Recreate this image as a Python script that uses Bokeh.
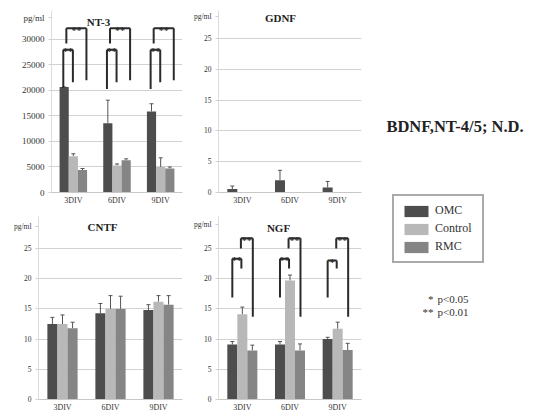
from bokeh.plotting import figure
from bokeh.models import (ColumnDataSource, FixedTicker, Whisker, TeeHead, Label,
                          Legend, LegendItem, Range1d, FactorRange)
from bokeh.transform import dodge
from bokeh.layouts import row, column
from bokeh.core.properties import value
from bokeh.embed import file_html
from bokeh.resources import INLINE

# ---------------- data ----------------
days = ["3DIV", "6DIV", "9DIV"]
groups = ["OMC", "Control", "RMC"]

nt3_omc = [20700, 13600, 15900]
nt3_omc_err = [0, 4500, 1500]
nt3_ctrl = [7100, 5300, 5000]
nt3_ctrl_err = [500, 300, 1800]
nt3_rmc = [4400, 6300, 4700]
nt3_rmc_err = [300, 300, 300]

gdnf_omc = [0.55, 2.0, 0.8]
gdnf_omc_err = [0.5, 1.6, 1.0]
gdnf_ctrl = [0, 0, 0]
gdnf_ctrl_err = [0, 0, 0]
gdnf_rmc = [0, 0, 0]
gdnf_rmc_err = [0, 0, 0]

cntf_omc = [12.5, 14.3, 14.8]
cntf_omc_err = [1.1, 1.6, 0.9]
cntf_ctrl = [12.5, 15.0, 16.2]
cntf_ctrl_err = [1.5, 2.2, 1.0]
cntf_rmc = [11.8, 15.0, 15.7]
cntf_rmc_err = [1.0, 2.1, 1.5]

ngf_omc = [9.1, 9.1, 10.0]
ngf_omc_err = [0.5, 0.5, 0.3]
ngf_ctrl = [14.1, 19.7, 11.7]
ngf_ctrl_err = [1.2, 0.9, 1.1]
ngf_rmc = [8.1, 8.1, 8.2]
ngf_rmc_err = [0.9, 1.1, 1.1]

# significance brackets (levels in data units)
nt3_inner_top = [28000, 28000, 28000]
nt3_inner_left = [20500, 20300, 20300]
nt3_inner_right = [21600, 21600, 21600]
nt3_inner_label = ["**", "**", "**"]
nt3_outer_top = [32200, 32200, 32200]
nt3_outer_left = [29200, 29200, 29200]
nt3_outer_right = [22000, 22000, 22000]
nt3_outer_label = ["**", "**", "**"]

ngf_inner_top = [23.3, 23.3, 23.0]
ngf_inner_left = [16.9, 16.9, 16.9]
ngf_inner_right = [21.7, 21.7, 21.7]
ngf_inner_label = ["**", "**", "*"]
ngf_outer_top = [26.7, 26.7, 26.7]
ngf_outer_left = [25.0, 25.0, 25.0]
ngf_outer_right = [13.7, 13.7, 13.7]
ngf_outer_label = ["**", "**", "**"]

# ---------------- style ----------------
SERIF = "Liberation Serif"
COLORS = ["#4d4d4d", "#b8b8b8", "#858585"]
OFFS = [-0.21, 0.0, 0.21]
BW = 0.21
DARK = "#2b2b2b"


def panel(title, series, errors, y_end, tick_max, tick_step, unit_at, fw, fh,
          bl, br, bt, bb, tick_size, title_xy):
    p = figure(x_range=FactorRange(*days), y_range=Range1d(0, y_end),
               frame_width=fw, frame_height=fh, output_backend="svg",
               toolbar_location=None, title=None,
               min_border_left=bl, min_border_right=br,
               min_border_top=bt, min_border_bottom=bb)
    data = dict(day=days)
    keys = ["omc", "ctrl", "rmc"]
    for k, s, e in zip(keys, series, errors):
        data[k] = s
        data[k + "_hi"] = [a + b for a, b in zip(s, e)]
    src = ColumnDataSource(data)
    for k, off, col, e in zip(keys, OFFS, COLORS, errors):
        p.vbar(x=dodge("day", off, range=p.x_range), top=k, width=BW,
               source=src, fill_color=col, line_color=None)
        if any(v > 0 for v in e):
            p.add_layout(Whisker(source=src, base=dodge("day", off, range=p.x_range),
                                 lower=k, upper=k + "_hi", lower_head=None,
                                 upper_head=TeeHead(size=4, line_color="#555", line_width=1),
                                 line_color="#555", line_width=1))
    ticks = list(range(0, tick_max + 1, tick_step))
    p.yaxis.ticker = FixedTicker(ticks=ticks + [unit_at])
    p.yaxis.major_label_overrides = {unit_at: "pg/ml"}
    p.ygrid.ticker = FixedTicker(ticks=ticks)
    p.ygrid.grid_line_color = "#d2d2d2"
    p.xgrid.grid_line_color = None
    p.outline_line_color = None
    p.yaxis.axis_line_color = "#dcdcdc"
    p.yaxis.major_tick_line_color = "#d0d0d0"
    p.yaxis.major_tick_out = 3
    p.yaxis.major_tick_in = 0
    p.yaxis.minor_tick_line_color = None
    p.yaxis.minor_tick_out = 0
    p.yaxis.major_label_text_font = SERIF
    p.yaxis.major_label_text_font_size = tick_size
    p.yaxis.major_label_text_color = "#333333"
    p.yaxis.major_label_standoff = 4
    p.xaxis.axis_line_color = "#c8c8c8"
    p.xaxis.major_tick_line_color = None
    p.xaxis.major_tick_out = 0
    p.xaxis.major_tick_in = 0
    p.xaxis.major_label_text_font = SERIF
    p.xaxis.major_label_text_font_size = "8px"
    p.xaxis.major_label_text_color = "#333333"
    p.xaxis.major_label_standoff = 3
    p.add_layout(Label(x=title_xy[0], y=title_xy[1], x_units="screen", y_units="screen",
                       text=title, text_font=SERIF, text_font_style="bold",
                       text_font_size="11px", text_align="center",
                       text_baseline="middle", text_color="#222222"))
    return p


def brackets(p, top, lb, rb, labels, xl_off, xr_off):
    src = ColumnDataSource(dict(day=days, top=top, lb=lb, rb=rb, label=labels))
    xl = dodge("day", xl_off, range=p.x_range)
    xr = dodge("day", xr_off, range=p.x_range)
    xm = dodge("day", (xl_off + xr_off) / 2, range=p.x_range)
    kw = dict(source=src, line_color=DARK, line_width=2)
    p.segment(x0=xl, y0="top", x1=xr, y1="top", **kw)
    p.segment(x0=xl, y0="top", x1=xl, y1="lb", **kw)
    p.segment(x0=xr, y0="top", x1=xr, y1="rb", **kw)
    p.text(x=xm, y="top", text="label", source=src, text_align="center",
           text_baseline="alphabetic", y_offset=2, text_font=value(SERIF),
           text_font_size="10px", text_font_style="bold", text_color=DARK)


# row 1: frames from y=10 to y=192 ; row 2: frames from y=216 to y=399
p1 = panel("NT-3", [nt3_omc, nt3_ctrl, nt3_rmc], [nt3_omc_err, nt3_ctrl_err, nt3_rmc_err],
           35686, 30000, 5000, 34300, 131, 182, 51, 8, 10, 16, "9px", (47, 171))
brackets(p1, nt3_inner_top, nt3_inner_left, nt3_inner_right, nt3_inner_label, -0.23, -0.01)
brackets(p1, nt3_outer_top, nt3_outer_left, nt3_outer_right, nt3_outer_label, -0.16, 0.30)

p2 = panel("GDNF", [gdnf_omc, gdnf_ctrl, gdnf_rmc], [gdnf_omc_err, gdnf_ctrl_err, gdnf_rmc_err],
           29.55, 25, 5, 28.6, 143, 182, 24, 3, 10, 16, "7.5px", (62, 174.5))

p3 = panel("CNTF", [cntf_omc, cntf_ctrl, cntf_rmc], [cntf_omc_err, cntf_ctrl_err, cntf_rmc_err],
           30.3, 25, 5, 28.6, 144, 183, 38, 8, 8, 14, "7.5px", (64, 173))

p4 = panel("NGF", [ngf_omc, ngf_ctrl, ngf_rmc], [ngf_omc_err, ngf_ctrl_err, ngf_rmc_err],
           30.3, 25, 5, 29.0, 143, 183, 24, 3, 8, 14, "7.5px", (60, 172))
brackets(p4, ngf_inner_top, ngf_inner_left, ngf_inner_right, ngf_inner_label, -0.21, -0.02)
brackets(p4, ngf_outer_top, ngf_outer_left, ngf_outer_right, ngf_outer_label, -0.03, 0.22)

# right-hand notes and legend
p5 = figure(frame_width=165, frame_height=413, output_backend="svg", toolbar_location=None,
            title=None, x_range=Range1d(0, 1), y_range=Range1d(0, 1),
            x_axis_location=None, y_axis_location=None, min_border=0)
p5.grid.grid_line_color = None
p5.outline_line_color = None
items = []
for g, col in zip(groups, COLORS):
    r = p5.vbar(x=[5], top=[5], width=1, fill_color=col, line_color=None)
    items.append(LegendItem(label=g, renderers=[r]))
legend = Legend(items=items, location=(28, 150), glyph_width=30, glyph_height=14,
                label_height=14, label_width=40, spacing=3, padding=7, margin=0,
                label_standoff=4, label_text_font=SERIF, label_text_font_size="12px",
                label_text_color="#333333", border_line_color="#555555",
                border_line_width=2, background_fill_color="white")
p5.add_layout(legend)
p5.add_layout(Label(x=90.5, y=287.5, x_units="screen", y_units="screen",
                    text="BDNF,NT-4/5; N.D.", text_font=SERIF, text_font_style="bold",
                    text_font_size="16.5px", text_align="center", text_baseline="middle",
                    text_color="#222222"))
for stars, txt, yy in [("*", "p<0.05", 115), ("**", "p<0.01", 102)]:
    p5.add_layout(Label(x=69, y=yy, x_units="screen", y_units="screen", text=stars,
                        text_font=SERIF, text_font_size="11px", text_align="right",
                        text_baseline="middle", text_color="#333333"))
    p5.add_layout(Label(x=73, y=yy, x_units="screen", y_units="screen", text=txt,
                        text_font=SERIF, text_font_size="11px", text_align="left",
                        text_baseline="middle", text_color="#333333"))

layout = row(column(row(p1, p2), row(p3, p4)), p5)
open("out.html", "w").write(file_html(layout, INLINE))
